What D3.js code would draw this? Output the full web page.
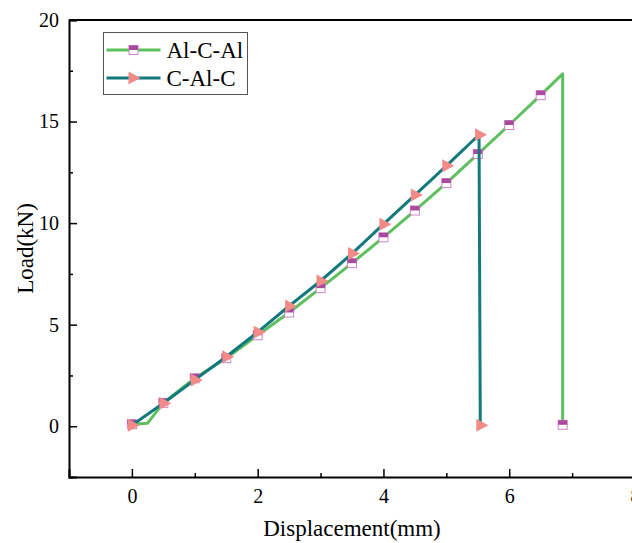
<!DOCTYPE html>
<html>
<head>
<meta charset="utf-8">
<script src="https://cdn.jsdelivr.net/npm/d3@7"></script>
<style>
  body { margin: 0; background: #fff; }
  svg { display: block; }
  svg text { font-family: "Liberation Serif", "Times New Roman", serif; fill: #000; }
</style>
</head>
<body>
<div id="chart"></div>
<script>
const width = 632;
const height = 543;
const margin = { left: 69, right: -3, top: 20, bottom: 66 };

// Al-C-Al series (line points); markers are drawn on every point flagged 1
const alcalX = [0, 0.25, 0.5, 1, 1.5, 2, 2.5, 3, 3.5, 4, 4.5, 5, 5.5, 6, 6.5, 6.85, 6.85];
const alcalY = [0.1, 0.15, 1.15, 2.36, 3.35, 4.48, 5.6, 6.8, 8.03, 9.3, 10.62, 11.97, 13.4, 14.83, 16.3, 17.35, 0.07];
const alcalMark = [1, 0, 1, 1, 1, 1, 1, 1, 1, 1, 1, 1, 1, 1, 1, 0, 1];

// C-Al-C series
const calcX = [0, 0.5, 1, 1.5, 2, 2.5, 3, 3.5, 4, 4.5, 5, 5.52, 5.54];
const calcY = [0.05, 1.13, 2.28, 3.42, 4.63, 5.92, 7.15, 8.5, 9.95, 11.38, 12.82, 14.35, 0.05];

const xTicks = [0, 2, 4, 6, 8];
const yTicks = [0, 5, 10, 15, 20];
const legendLabels = ["Al-C-Al", "C-Al-C"];

const green = "#5dbf5d";
const teal = "#14797c";
const squareFill = "#a9499f";
const squareStroke = "#cf84c8";
const triFill = "#f28a88";

const svg = d3.select("#chart").append("svg")
  .attr("width", width)
  .attr("height", height);

const x = d3.scaleLinear().domain([-1, 8]).range([margin.left, width - margin.right]);
const y = d3.scaleLinear().domain([-2.5, 20]).range([height - margin.bottom, margin.top]);

const alcal = alcalX.map((d, i) => ({ x: d, y: alcalY[i], mark: alcalMark[i] }));
const calc = calcX.map((d, i) => ({ x: d, y: calcY[i] }));

const line = d3.line().x((d) => x(d.x)).y((d) => y(d.y));

const squareMarker = (g) => {
  g.append("rect").attr("x", -4.5).attr("y", -4.5).attr("width", 9).attr("height", 9)
    .attr("fill", "#fff").attr("stroke", squareStroke).attr("stroke-width", 1);
  g.append("rect").attr("x", -4.5).attr("y", -4.5).attr("width", 9).attr("height", 4.5)
    .attr("fill", squareFill);
};
const triMarker = (g) => {
  g.append("path").attr("d", "M-5,-6.5L7,0L-5,6.5Z").attr("fill", triFill);
};

// Al-C-Al
svg.append("path")
  .datum(alcal)
  .attr("fill", "none")
  .attr("stroke", green)
  .attr("stroke-width", 3)
  .attr("stroke-linejoin", "round")
  .attr("d", line);

svg.append("g").selectAll("g")
  .data(alcal.filter((d) => d.mark))
  .join("g")
  .attr("transform", (d) => `translate(${x(d.x)},${y(d.y)})`)
  .each(function () { squareMarker(d3.select(this)); });

// C-Al-C
svg.append("path")
  .datum(calc)
  .attr("fill", "none")
  .attr("stroke", teal)
  .attr("stroke-width", 3)
  .attr("stroke-linejoin", "round")
  .attr("d", line);

svg.append("g").selectAll("g")
  .data(calc)
  .join("g")
  .attr("transform", (d) => `translate(${x(d.x) + 1},${y(d.y)})`)
  .each(function () { triMarker(d3.select(this)); });

// axes, ticks pointing inward
svg.append("g")
  .attr("transform", `translate(0,${height - margin.bottom})`)
  .call(d3.axisBottom(x).tickValues(xTicks).tickSize(-8).tickPadding(12).tickFormat(d3.format("d")));
svg.append("g")
  .attr("transform", `translate(0,${height - margin.bottom})`)
  .call(d3.axisBottom(x).tickValues([-1, 1, 3, 5, 7]).tickSize(-4).tickFormat(""))
  .call((g) => g.select(".domain").remove());

svg.append("g")
  .attr("transform", `translate(${margin.left},0)`)
  .call(d3.axisLeft(y).tickValues(yTicks).tickSize(-8).tickPadding(10).tickFormat(d3.format("d")));
svg.append("g")
  .attr("transform", `translate(${margin.left},0)`)
  .call(d3.axisLeft(y).tickValues([-2.5, 2.5, 7.5, 12.5, 17.5]).tickSize(-4).tickFormat(""))
  .call((g) => g.select(".domain").remove());

svg.selectAll(".domain").attr("stroke", "#000").attr("stroke-width", 2);
svg.selectAll(".tick line").attr("stroke", "#000").attr("stroke-width", 1.5);
svg.selectAll(".tick text").attr("font-size", 20);

// top frame
svg.append("line")
  .attr("x1", margin.left).attr("x2", width + 10)
  .attr("y1", margin.top).attr("y2", margin.top)
  .attr("stroke", "#000").attr("stroke-width", 2);

// titles
svg.append("text")
  .attr("x", (x.range()[0] + x.range()[1]) / 2)
  .attr("y", 536)
  .attr("text-anchor", "middle")
  .attr("font-size", 23)
  .text("Displacement(mm)");

svg.append("text")
  .attr("transform", `translate(33,${(y.range()[0] + y.range()[1]) / 2}) rotate(-90)`)
  .attr("text-anchor", "middle")
  .attr("font-size", 23)
  .text("Load(kN)");

// legend
const legend = svg.append("g").attr("transform", "translate(103.5,32.5)");
legend.append("rect")
  .attr("width", 144).attr("height", 62)
  .attr("fill", "#fff").attr("stroke", "#555").attr("stroke-width", 1);

const legendRows = legend.selectAll(".row")
  .data(legendLabels)
  .join("g")
  .attr("class", "row")
  .attr("transform", (d, i) => `translate(0,${17.5 + i * 28})`);

legendRows.append("line")
  .attr("x1", 3).attr("x2", 57)
  .attr("stroke", (d, i) => (i === 0 ? green : teal))
  .attr("stroke-width", 3);

legendRows.append("g")
  .attr("transform", "translate(30,0)")
  .each(function (d, i) {
    if (i === 0) squareMarker(d3.select(this));
    else triMarker(d3.select(this));
  });

legendRows.append("text")
  .attr("x", 63)
  .attr("dy", "0.35em")
  .attr("font-size", 23)
  .text((d) => d);
</script>
</body>
</html>
